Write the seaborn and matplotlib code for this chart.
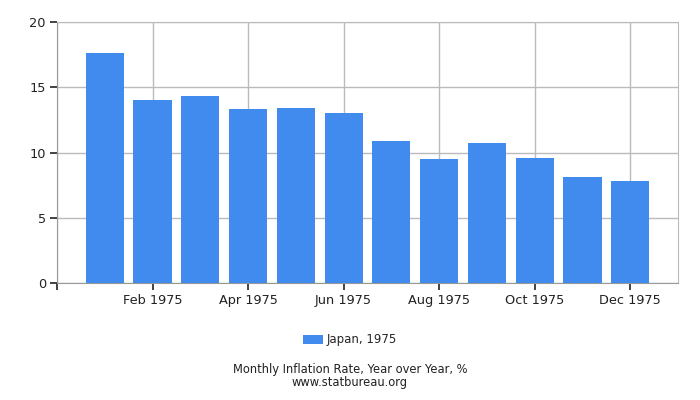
import matplotlib
matplotlib.use('Agg')
import matplotlib.pyplot as plt
import seaborn as sns
import pandas as pd

# Monthly inflation, Japan 1975 (year over year, %)
months = ['Jan 1975', 'Feb 1975', 'Mar 1975', 'Apr 1975', 'May 1975', 'Jun 1975',
          'Jul 1975', 'Aug 1975', 'Sep 1975', 'Oct 1975', 'Nov 1975', 'Dec 1975']
rates = [17.6, 14.0, 14.3, 13.3, 13.4, 13.0, 10.9, 9.5, 10.7, 9.6, 8.1, 7.8]
series_name = 'Japan, 1975'
y_ticks = [0, 5, 10, 15, 20]

df = pd.DataFrame({'Month': months, 'Rate': rates})

sns.set_style('white')
plt.rcParams['font.family'] = ['DejaVu Sans']
plt.rcParams['xtick.bottom'] = True
plt.rcParams['ytick.left'] = True

fig = plt.figure(figsize=(7, 4), dpi=100)
ax = fig.add_axes([57 / 700, 117 / 400, 621 / 700, 261 / 400])

sns.barplot(x='Month', y='Rate', data=df, color='#418bef', saturation=1,
            width=0.8, linewidth=0, label=series_name, ax=ax, zorder=3)

# labels only on every second month, plus an unlabelled tick at the left edge
tick_pos = [-1] + list(range(1, len(months), 2))
tick_lab = [''] + [months[i] for i in range(1, len(months), 2)]
ax.set_xticks(tick_pos)
ax.set_xticklabels(tick_lab, fontsize=9.3, color='#222222')
ax.set_xlim(-1, 12)
ax.set_ylim(0, 20)
ax.set_yticks(y_ticks)
ax.set_yticklabels([str(v) for v in y_ticks], fontsize=9.3, color='#222222')
ax.set_xlabel('')
ax.set_ylabel('')

ax.grid(True, color='#bbbbbb', linewidth=1, zorder=0)
ax.set_axisbelow(True)
for side in ['left', 'bottom', 'right', 'top']:
    ax.spines[side].set_color('#bbbbbb')
ax.spines['left'].set_color('#999999')
ax.spines['bottom'].set_color('#999999')
ax.tick_params(axis='x', which='major', bottom=True, length=5, width=1.2,
               color='#222222', direction='out', pad=3)
ax.tick_params(axis='y', which='major', left=True, length=5, width=1.2,
               color='#222222', direction='out', pad=3)

if ax.legend_:
    ax.legend_.remove()
handles, labels = ax.get_legend_handles_labels()
fig.legend(handles, labels, loc='center', bbox_to_anchor=(0.5, 1 - 340 / 400),
           frameon=False, fontsize=8.5, handlelength=1.7, handleheight=0.7,
           handletextpad=0.3)

fig.text(0.5, 1 - 369 / 400, 'Monthly Inflation Rate, Year over Year, %',
         ha='center', va='center', fontsize=8.3, color='#222222')
fig.text(0.5, 1 - 382.5 / 400, 'www.statbureau.org',
         ha='center', va='center', fontsize=8.3, color='#222222')

fig.savefig('out.png', dpi=100)
